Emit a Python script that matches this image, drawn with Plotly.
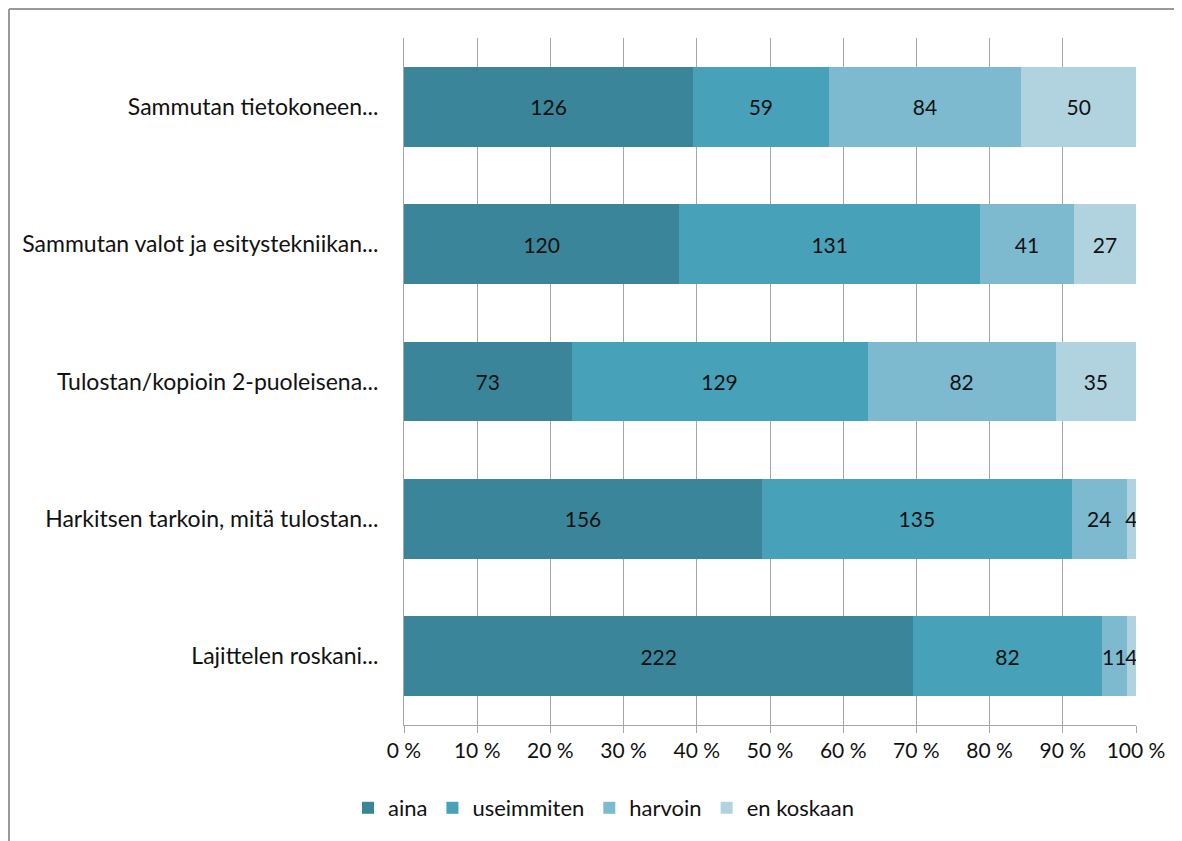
import plotly.graph_objects as go

# kysymykset (ylhäältä alas)
questions = [
    "Sammutan tietokoneen...",
    "Sammutan valot ja esitystekniikan...",
    "Tulostan/kopioin 2-puoleisena...",
    "Harkitsen tarkoin, mitä tulostan...",
    "Lajittelen roskani...",
]

aina = [126, 120, 73, 156, 222]
useimmiten = [59, 131, 129, 135, 82]
harvoin = [84, 41, 82, 24, 11]
en_koskaan = [50, 27, 35, 4, 4]

tick_vals = [0, 10, 20, 30, 40, 50, 60, 70, 80, 90, 100]

series = [
    ("aina", aina, "#3A8599"),
    ("useimmiten", useimmiten, "#47A1B9"),
    ("harvoin", harvoin, "#7EBACF"),
    ("en koskaan", en_koskaan, "#B1D3E0"),
]

font_name = "Lato"
txt_col = "#111111"

fig = go.Figure()
for name, vals, col in series:
    fig.add_trace(go.Bar(
        y=questions,
        x=vals,
        name=name,
        orientation="h",
        marker=dict(color=col, line=dict(width=0)),
        text=[str(v) for v in vals],
        textposition="inside",
        insidetextanchor="middle",
        textangle=0,
        constraintext="none",
        textfont=dict(family=font_name, size=21, color=txt_col),
    ))

# page has an 8px body margin, so figure px = screen px - 8
FW, FH = 1174, 833
L, R, T, B = 396, 1128, 30, 717
W, H = R - L, B - T

# outer chart frame: only top and left edges are visible in the picture
fx = (1 - L) / W
fy = 1 + (T - 1) / H
frame = dict(color="#9a9a9a", width=2)

fig.update_layout(
    width=FW,
    height=FH,
    barmode="stack",
    barnorm="percent",
    bargap=0.42,
    paper_bgcolor="white",
    plot_bgcolor="white",
    margin=dict(l=L, r=FW - R, t=T, b=FH - B),
    font=dict(family=font_name, size=21, color=txt_col),
    legend=dict(
        orientation="h",
        x=(596 - L) / W,
        xanchor="center",
        y=(B - 800) / H,
        yanchor="middle",
        font=dict(family=font_name, size=22, color=txt_col),
        traceorder="normal",
        itemwidth=30,
    ),
    showlegend=True,
    shapes=[
        dict(type="line", xref="paper", yref="paper",
             x0=fx, x1=2.0, y0=fy, y1=fy, line=frame, layer="below"),
        dict(type="line", xref="paper", yref="paper",
             x0=fx, x1=fx, y0=-1.0, y1=fy, line=frame, layer="below"),
    ],
)

fig.update_xaxes(
    range=[0, 100],
    tickvals=tick_vals,
    ticktext=[f"{v} %" for v in tick_vals],
    showgrid=True,
    gridcolor="#a6a6a6",
    gridwidth=1,
    zeroline=False,
    showline=True,
    linecolor="#a6a6a6",
    linewidth=1,
    ticks="outside",
    ticklen=7,
    tickcolor="#a6a6a6",
    tickfont=dict(family=font_name, size=21, color=txt_col),
)

fig.update_yaxes(
    categoryorder="array",
    categoryarray=questions,
    autorange="reversed",
    showline=True,
    linecolor="#a6a6a6",
    linewidth=1,
    ticks="",
    ticklabelstandoff=20,
    tickfont=dict(family=font_name, size=23, color=txt_col),
)

fig.write_html("out.html")
